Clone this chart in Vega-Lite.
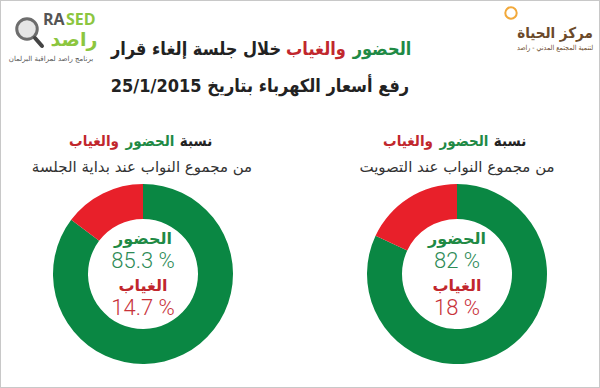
{
  "$schema": "https://vega.github.io/schema/vega-lite/v6.json",
  "width": 600,
  "height": 388,
  "autosize": {"type": "fit", "contains": "padding"},
  "padding": 0,
  "background": "white",
  "config": {
    "view": {"stroke": "#c8c8c8", "strokeWidth": 2},
    "axis": {"disable": true}
  },
  "datasets": {
    "left": [
      {"status": "الحضور", "pct": 85.3, "label": "85.3 %"},
      {"status": "الغياب", "pct": 14.7, "label": "14.7 %"}
    ],
    "right": [
      {"status": "الحضور", "pct": 82, "label": "82 %"},
      {"status": "الغياب", "pct": 18, "label": "18 %"}
    ],
    "txt": [
      {"id": "t1g", "text": "الحضور"},
      {"id": "t1r", "text": "والغياب"},
      {"id": "t1k", "text": "خلال جلسة إلغاء قرار"},
      {"id": "t2", "text": "رفع أسعار الكهرباء بتاريخ 25/1/2015"},
      {"id": "pk", "text": "نسبة"},
      {"id": "pg", "text": "الحضور"},
      {"id": "pr", "text": "والغياب"},
      {"id": "psL", "text": "من مجموع النواب عند بداية الجلسة"},
      {"id": "psR", "text": "من مجموع النواب عند التصويت"},
      {"id": "ra", "text": "RA"},
      {"id": "sed", "text": "SED"},
      {"id": "rased", "text": "راصد"},
      {"id": "rcap", "text": "برنامج راصد لمراقبة البرلمان"},
      {"id": "hayat", "text": "مركز الحياة"},
      {"id": "hcap", "text": "لتنمية المجتمع المدني - راصد"}
    ]
  },
  "layer": [
    {
      "data": {"name": "left"},
      "mark": {"type": "arc", "outerRadius": 90, "innerRadius": 55},
      "encoding": {
        "x": {"datum": 143, "type": "quantitative", "scale": {"domain": [0, 600], "nice": false, "zero": false}},
        "y": {"datum": 274, "type": "quantitative", "scale": {"domain": [0, 388], "nice": false, "zero": false, "reverse": true}},
        "theta": {"field": "pct", "type": "quantitative", "stack": true},
        "order": {"field": "status", "type": "ordinal", "sort": "ascending"},
        "color": {"field": "status", "type": "nominal", "scale": {"domain": ["الحضور", "الغياب"], "range": ["#0a8743", "#e8202a"]}, "legend": null}
      }
    },
    {
      "data": {"name": "right"},
      "mark": {"type": "arc", "outerRadius": 90, "innerRadius": 55},
      "encoding": {
        "x": {"datum": 457, "type": "quantitative"},
        "y": {"datum": 274, "type": "quantitative"},
        "theta": {"field": "pct", "type": "quantitative", "stack": true},
        "order": {"field": "status", "type": "ordinal", "sort": "ascending"},
        "color": {"field": "status", "type": "nominal", "legend": null}
      }
    },
    {
      "data": {"name": "left"},
      "transform": [{"filter": "datum.status == 'الحضور'"}],
      "mark": {"type": "text", "font": "DejaVu Sans", "fontWeight": "bold", "fontSize": 16, "color": "#1f8a45", "baseline": "middle"},
      "encoding": {"text": {"field": "status"}, "x": {"datum": 143}, "y": {"datum": 239}}
    },
    {
      "data": {"name": "left"},
      "transform": [{"filter": "datum.status == 'الحضور'"}],
      "mark": {"type": "text", "font": "Roboto", "fontWeight": 300, "fontSize": 22, "color": "#2e8b57", "baseline": "middle"},
      "encoding": {"text": {"field": "label"}, "x": {"datum": 143}, "y": {"datum": 261}}
    },
    {
      "data": {"name": "left"},
      "transform": [{"filter": "datum.status == 'الغياب'"}],
      "mark": {"type": "text", "font": "DejaVu Sans", "fontWeight": "bold", "fontSize": 16, "color": "#c1272d", "baseline": "middle"},
      "encoding": {"text": {"field": "status"}, "x": {"datum": 143}, "y": {"datum": 286}}
    },
    {
      "data": {"name": "left"},
      "transform": [{"filter": "datum.status == 'الغياب'"}],
      "mark": {"type": "text", "font": "Roboto", "fontWeight": 300, "fontSize": 22, "color": "#c8323a", "baseline": "middle"},
      "encoding": {"text": {"field": "label"}, "x": {"datum": 143}, "y": {"datum": 308}}
    },
    {
      "data": {"name": "right"},
      "transform": [{"filter": "datum.status == 'الحضور'"}],
      "mark": {"type": "text", "font": "DejaVu Sans", "fontWeight": "bold", "fontSize": 16, "color": "#1f8a45", "baseline": "middle"},
      "encoding": {"text": {"field": "status"}, "x": {"datum": 457}, "y": {"datum": 239}}
    },
    {
      "data": {"name": "right"},
      "transform": [{"filter": "datum.status == 'الحضور'"}],
      "mark": {"type": "text", "font": "Roboto", "fontWeight": 300, "fontSize": 22, "color": "#2e8b57", "baseline": "middle"},
      "encoding": {"text": {"field": "label"}, "x": {"datum": 457}, "y": {"datum": 261}}
    },
    {
      "data": {"name": "right"},
      "transform": [{"filter": "datum.status == 'الغياب'"}],
      "mark": {"type": "text", "font": "DejaVu Sans", "fontWeight": "bold", "fontSize": 16, "color": "#c1272d", "baseline": "middle"},
      "encoding": {"text": {"field": "status"}, "x": {"datum": 457}, "y": {"datum": 286}}
    },
    {
      "data": {"name": "right"},
      "transform": [{"filter": "datum.status == 'الغياب'"}],
      "mark": {"type": "text", "font": "Roboto", "fontWeight": 300, "fontSize": 22, "color": "#c8323a", "baseline": "middle"},
      "encoding": {"text": {"field": "label"}, "x": {"datum": 457}, "y": {"datum": 308}}
    },
    {
      "data": {"name": "txt"},
      "transform": [{"filter": "datum.id == 't1g'"}],
      "mark": {"type": "text", "font": "DejaVu Sans Condensed", "fontWeight": "bold", "fontSize": 18, "color": "#1f8a45", "baseline": "middle"},
      "encoding": {"text": {"field": "text"}, "x": {"datum": 382}, "y": {"datum": 50}}
    },
    {
      "data": {"name": "txt"},
      "transform": [{"filter": "datum.id == 't1r'"}],
      "mark": {"type": "text", "font": "DejaVu Sans Condensed", "fontWeight": "bold", "fontSize": 18, "color": "#c1272d", "baseline": "middle"},
      "encoding": {"text": {"field": "text"}, "x": {"datum": 316}, "y": {"datum": 50}}
    },
    {
      "data": {"name": "txt"},
      "transform": [{"filter": "datum.id == 't1k'"}],
      "mark": {"type": "text", "font": "DejaVu Sans Condensed", "fontWeight": "bold", "fontSize": 18, "color": "#222222", "baseline": "middle"},
      "encoding": {"text": {"field": "text"}, "x": {"datum": 196}, "y": {"datum": 50}}
    },
    {
      "data": {"name": "txt"},
      "transform": [{"filter": "datum.id == 't2'"}],
      "mark": {"type": "text", "font": "DejaVu Sans Condensed", "fontWeight": "bold", "fontSize": 18, "color": "#222222", "baseline": "middle"},
      "encoding": {"text": {"field": "text"}, "x": {"datum": 260}, "y": {"datum": 87}}
    },
    {
      "data": {"name": "txt"},
      "transform": [{"filter": "datum.id == 'pk'"}],
      "mark": {"type": "text", "font": "DejaVu Sans Condensed", "fontWeight": "bold", "fontSize": 15, "color": "#222222", "baseline": "middle"},
      "encoding": {"text": {"field": "text"}, "x": {"datum": 196}, "y": {"datum": 141}}
    },
    {
      "data": {"name": "txt"},
      "transform": [{"filter": "datum.id == 'pg'"}],
      "mark": {"type": "text", "font": "DejaVu Sans Condensed", "fontWeight": "bold", "fontSize": 15, "color": "#1f8a45", "baseline": "middle"},
      "encoding": {"text": {"field": "text"}, "x": {"datum": 150}, "y": {"datum": 141}}
    },
    {
      "data": {"name": "txt"},
      "transform": [{"filter": "datum.id == 'pr'"}],
      "mark": {"type": "text", "font": "DejaVu Sans Condensed", "fontWeight": "bold", "fontSize": 15, "color": "#c1272d", "baseline": "middle"},
      "encoding": {"text": {"field": "text"}, "x": {"datum": 94}, "y": {"datum": 141}}
    },
    {
      "data": {"name": "txt"},
      "transform": [{"filter": "datum.id == 'pk'"}],
      "mark": {"type": "text", "font": "DejaVu Sans Condensed", "fontWeight": "bold", "fontSize": 15, "color": "#222222", "baseline": "middle"},
      "encoding": {"text": {"field": "text"}, "x": {"datum": 510}, "y": {"datum": 141}}
    },
    {
      "data": {"name": "txt"},
      "transform": [{"filter": "datum.id == 'pg'"}],
      "mark": {"type": "text", "font": "DejaVu Sans Condensed", "fontWeight": "bold", "fontSize": 15, "color": "#1f8a45", "baseline": "middle"},
      "encoding": {"text": {"field": "text"}, "x": {"datum": 464}, "y": {"datum": 141}}
    },
    {
      "data": {"name": "txt"},
      "transform": [{"filter": "datum.id == 'pr'"}],
      "mark": {"type": "text", "font": "DejaVu Sans Condensed", "fontWeight": "bold", "fontSize": 15, "color": "#c1272d", "baseline": "middle"},
      "encoding": {"text": {"field": "text"}, "x": {"datum": 408}, "y": {"datum": 141}}
    },
    {
      "data": {"name": "txt"},
      "transform": [{"filter": "datum.id == 'psL'"}],
      "mark": {"type": "text", "font": "DejaVu Sans", "fontSize": 15, "color": "#333333", "baseline": "middle"},
      "encoding": {"text": {"field": "text"}, "x": {"datum": 142}, "y": {"datum": 167}}
    },
    {
      "data": {"name": "txt"},
      "transform": [{"filter": "datum.id == 'psR'"}],
      "mark": {"type": "text", "font": "DejaVu Sans", "fontSize": 15, "color": "#333333", "baseline": "middle"},
      "encoding": {"text": {"field": "text"}, "x": {"datum": 457}, "y": {"datum": 167}}
    },
    {
      "data": {"name": "txt"},
      "transform": [{"filter": "datum.id == 'ra'"}],
      "mark": {"type": "point", "shape": "circle", "size": 420, "filled": true, "fill": "#e6e6e6", "stroke": "#6d6d6d", "strokeWidth": 3, "opacity": 1},
      "encoding": {"x": {"datum": 27}, "y": {"datum": 29}}
    },
    {
      "data": {"name": "txt"},
      "transform": [{"filter": "datum.id == 'ra'"}],
      "mark": {"type": "rule", "stroke": "#444444", "strokeWidth": 4, "strokeCap": "round"},
      "encoding": {"x": {"datum": 35}, "y": {"datum": 38}, "x2": {"datum": 42}, "y2": {"datum": 46}}
    },
    {
      "data": {"name": "txt"},
      "transform": [{"filter": "datum.id == 'ra'"}],
      "mark": {"type": "point", "shape": "circle", "size": 130, "filled": false, "stroke": "#f2a93b", "strokeWidth": 2, "opacity": 1},
      "encoding": {"x": {"datum": 511}, "y": {"datum": 13}}
    },
    {
      "data": {"name": "txt"},
      "transform": [{"filter": "datum.id == 'ra'"}],
      "mark": {"type": "text", "font": "Open Sans", "fontWeight": "bold", "fontSize": 16, "color": "#555555", "align": "left", "baseline": "middle"},
      "encoding": {"text": {"field": "text"}, "x": {"datum": 43}, "y": {"datum": 20}}
    },
    {
      "data": {"name": "txt"},
      "transform": [{"filter": "datum.id == 'sed'"}],
      "mark": {"type": "text", "font": "Open Sans", "fontWeight": "bold", "fontSize": 16, "color": "#8cc63f", "align": "left", "baseline": "middle"},
      "encoding": {"text": {"field": "text"}, "x": {"datum": 66}, "y": {"datum": 20}}
    },
    {
      "data": {"name": "txt"},
      "transform": [{"filter": "datum.id == 'rased'"}],
      "mark": {"type": "text", "font": "DejaVu Sans", "fontWeight": "bold", "fontSize": 19, "color": "#8cc63f", "baseline": "middle"},
      "encoding": {"text": {"field": "text"}, "x": {"datum": 74}, "y": {"datum": 40}}
    },
    {
      "data": {"name": "txt"},
      "transform": [{"filter": "datum.id == 'rcap'"}],
      "mark": {"type": "text", "font": "DejaVu Sans", "fontSize": 7, "color": "#555555", "baseline": "middle"},
      "encoding": {"text": {"field": "text"}, "x": {"datum": 51}, "y": {"datum": 59}}
    },
    {
      "data": {"name": "txt"},
      "transform": [{"filter": "datum.id == 'hayat'"}],
      "mark": {"type": "text", "font": "DejaVu Sans Condensed", "fontWeight": "bold", "fontSize": 15, "color": "#6b4a2b", "baseline": "middle"},
      "encoding": {"text": {"field": "text"}, "x": {"datum": 555}, "y": {"datum": 33}}
    },
    {
      "data": {"name": "txt"},
      "transform": [{"filter": "datum.id == 'hcap'"}],
      "mark": {"type": "text", "font": "DejaVu Sans Condensed", "fontSize": 7, "color": "#6b4a2b", "baseline": "middle"},
      "encoding": {"text": {"field": "text"}, "x": {"datum": 555}, "y": {"datum": 48}}
    }
  ]
}
